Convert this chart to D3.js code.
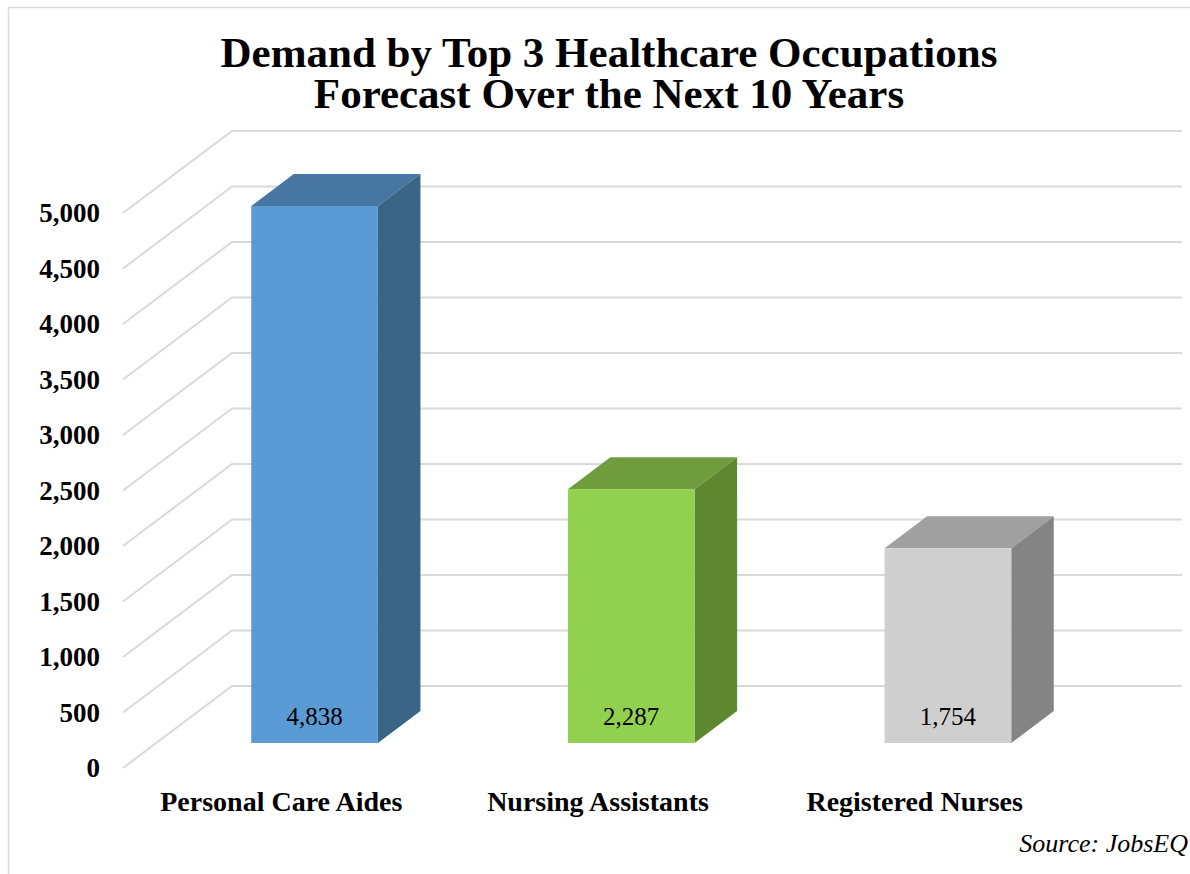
<!DOCTYPE html>
<html>
<head>
<meta charset="utf-8">
<script src="https://cdn.jsdelivr.net/npm/d3@7"></script>
<style>
  body { margin: 0; background: #fff; }
  svg { display: block; }
  text { font-family: "Liberation Serif", "Times New Roman", serif; fill: #000; }
</style>
</head>
<body>
<script>
// chart data
var categories = ["Personal Care Aides", "Nursing Assistants", "Registered Nurses"];
var demand = [4838, 2287, 1754];
var tickValues = [0, 500, 1000, 1500, 2000, 2500, 3000, 3500, 4000, 4500, 5000];
var frontColors = ["#5b9bd5", "#92d050", "#d0cfd0"];
var topColors = ["#4676a1", "#6f9c3c", "#a0a0a0"];
var sideColors = ["#3b6587", "#5e8830", "#858485"];

var w = 1190,
    h = 874,
    depthX = 109,   // full depth of the 3d floor
    depthY = 82,
    barFront = 0.305,  // bar front plane, as share of depth
    barBack = 0.695;

var svg = d3.select("body")
    .append("svg")
    .attr("width", w)
    .attr("height", h);

// outer chart border (cut at right and bottom)
svg.append("path")
    .attr("d", "M8.5,874 L8.5,7.5 L1190,7.5")
    .style("fill", "none")
    .style("stroke", "#d9d9d9")
    .style("stroke-width", 1.5);

var y = d3.scaleLinear()
    .domain([0, 5000])
    .range([768, 213]);

var x = d3.scaleBand()
    .domain(categories)
    .range([123, 1073]);

var fmt = d3.format(",");

// gridlines: floor diagonal + back wall line
svg.selectAll("path.grid")
    .data(tickValues)
    .enter()
    .append("path")
    .attr("class", "grid")
    .attr("d", function(d) {
        var y0 = y(d);
        return "M123," + y0 + " L" + (123 + depthX) + "," + (y0 - depthY) + " L1182," + (y0 - depthY);
    })
    .style("fill", "none")
    .style("stroke", "#d9d9d9")
    .style("stroke-width", 2);

// y axis labels
svg.selectAll("text.tick")
    .data(tickValues)
    .enter()
    .append("text")
    .attr("class", "tick")
    .attr("x", 100)
    .attr("y", function(d) { return y(d); })
    .attr("dy", "0.35em")
    .attr("text-anchor", "end")
    .style("font-weight", "bold")
    .style("font-size", "27px")
    .text(function(d) { return fmt(d); });

// bars
var barW = x.bandwidth() * 0.4;
var fx = function(d, i) { return x(categories[i]) + (x.bandwidth() - barW) / 2 + barFront * depthX; };
var dx = (barBack - barFront) * depthX,
    dy = (barBack - barFront) * depthY;
var fy0 = y(0) - barFront * depthY;

var bars = svg.selectAll("g.bar")
    .data(demand)
    .enter()
    .append("g")
    .attr("class", "bar");

// top face
bars.append("path")
    .attr("d", function(d, i) {
        var x0 = fx(d, i), yt = y(d) - barFront * depthY;
        return "M" + x0 + "," + yt + " L" + (x0 + dx) + "," + (yt - dy) +
            " L" + (x0 + barW + dx) + "," + (yt - dy) + " L" + (x0 + barW) + "," + yt + "Z";
    })
    .style("fill", function(d, i) { return topColors[i]; });

// side face
bars.append("path")
    .attr("d", function(d, i) {
        var x1 = fx(d, i) + barW, yt = y(d) - barFront * depthY;
        return "M" + x1 + "," + yt + " L" + (x1 + dx) + "," + (yt - dy) +
            " L" + (x1 + dx) + "," + (fy0 - dy) + " L" + x1 + "," + fy0 + "Z";
    })
    .style("fill", function(d, i) { return sideColors[i]; });

// front face
bars.append("rect")
    .attr("x", fx)
    .attr("y", function(d) { return y(d) - barFront * depthY; })
    .attr("width", barW)
    .attr("height", function(d) { return fy0 - (y(d) - barFront * depthY); })
    .style("fill", function(d, i) { return frontColors[i]; });

// value labels inside bar bottoms
bars.append("text")
    .attr("x", function(d, i) { return fx(d, i) + barW / 2; })
    .attr("y", fy0 - 27)
    .attr("dy", "0.35em")
    .attr("text-anchor", "middle")
    .style("font-size", "25px")
    .text(function(d) { return fmt(d); });

// category labels
svg.selectAll("text.cat")
    .data(categories)
    .enter()
    .append("text")
    .attr("class", "cat")
    .attr("x", function(d) { return x(d) + x.bandwidth() / 2; })
    .attr("y", 811)
    .attr("text-anchor", "middle")
    .style("font-weight", "bold")
    .style("font-size", "28px")
    .text(function(d) { return d; });

// title
var title = svg.append("text")
    .attr("x", 609)
    .attr("text-anchor", "middle")
    .style("font-weight", "bold")
    .style("font-size", "43px");
title.append("tspan").attr("x", 609).attr("y", 67).text("Demand by Top 3 Healthcare Occupations");
title.append("tspan").attr("x", 609).attr("y", 108).text("Forecast Over the Next 10 Years");

svg.append("text")
    .attr("x", 1188)
    .attr("y", 852)
    .attr("text-anchor", "end")
    .style("font-style", "italic")
    .style("font-size", "26px")
    .text("Source: JobsEQ");
</script>
</body>
</html>
